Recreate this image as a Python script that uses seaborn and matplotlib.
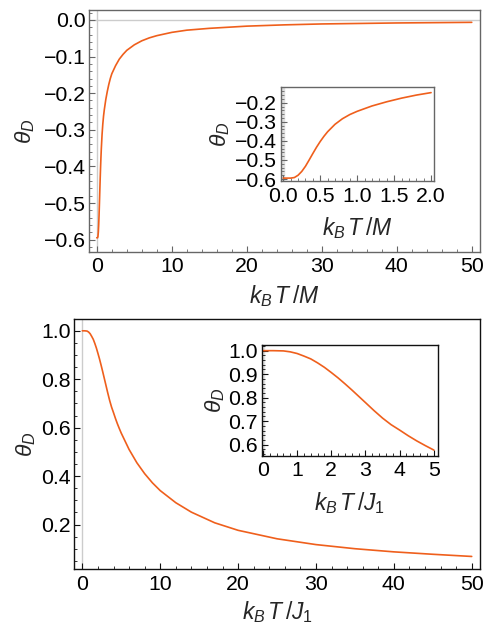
import numpy as np
import pandas as pd
import matplotlib
matplotlib.use("Agg")
import matplotlib.pyplot as plt
import seaborn as sns
from matplotlib.ticker import MultipleLocator, FixedLocator, FuncFormatter

# ---------------- data ----------------
# top panel: theta_D vs k_B T / M
x_top = [0.0, 0.10, 0.15, 0.20, 0.25, 0.30, 0.35, 0.40, 0.45, 0.50, 0.55, 0.60, 0.70,
         0.80, 0.90, 1.00, 1.20, 1.40, 1.60, 1.80, 2.00,
         2.5, 3.0, 3.5, 4.0, 5.0, 6.0, 7.0, 8.0, 10.0, 12.0, 15.0, 20.0, 25.0, 30.0,
         40.0, 50.0]
y_top = [-0.595, -0.595, -0.592, -0.580, -0.560, -0.533, -0.500, -0.466, -0.433, -0.403,
         -0.376, -0.352, -0.313, -0.284, -0.262, -0.245, -0.217, -0.195, -0.176, -0.160,
         -0.147,
         -0.125, -0.107, -0.094, -0.083, -0.068, -0.057, -0.049, -0.043, -0.034, -0.028,
         -0.023, -0.017, -0.0135, -0.011, -0.0083, -0.0066]

# bottom panel: theta_D vs k_B T / J_1
x_bot = [0.0, 0.3, 0.6, 0.8, 1.0, 1.2, 1.4, 1.6, 1.8, 2.0, 2.2, 2.4, 2.6, 2.8, 3.0,
         3.25, 3.5, 3.75, 4.0, 4.25, 4.5, 4.75, 5.0,
         6.0, 7.0, 8.0, 9.0, 10.0, 12.0, 14.0, 17.0, 20.0, 25.0, 30.0, 35.0, 40.0,
         45.0, 50.0]
y_bot = [1.0, 1.0, 0.999, 0.995, 0.988, 0.977, 0.965, 0.948, 0.929, 0.907, 0.884,
         0.859, 0.833, 0.806, 0.779, 0.745, 0.713, 0.685, 0.662, 0.638, 0.616, 0.596,
         0.577,
         0.51, 0.455, 0.41, 0.372, 0.34, 0.29, 0.251, 0.207, 0.176, 0.141, 0.117, 0.1,
         0.087, 0.077, 0.068]

inset_top_max = 2.0
inset_bot_max = 5.0

# tick values
top_main_xticks = [0, 10, 20, 30, 40, 50]
top_main_yticks = [-0.6, -0.5, -0.4, -0.3, -0.2, -0.1, 0.0]
top_in_xticks = [0.0, 0.5, 1.0, 1.5, 2.0]
top_in_yticks = [-0.6, -0.5, -0.4, -0.3, -0.2]
bot_main_xticks = [0, 10, 20, 30, 40, 50]
bot_main_yticks = [0.2, 0.4, 0.6, 0.8, 1.0]
bot_in_xticks = [0, 1, 2, 3, 4, 5]
bot_in_yticks = [0.6, 0.7, 0.8, 0.9, 1.0]

xlabel_top = r"$k_B\,T\,/M$"
xlabel_bot = r"$k_B\,T\,/J_1$"
ylabel = r"$\theta_D$"

# ---------------- style ----------------
sns.set_theme(style="white")
plt.rcParams["font.family"] = ["Liberation Sans", "DejaVu Sans"]
plt.rcParams["mathtext.fontset"] = "custom"
plt.rcParams["mathtext.rm"] = "Liberation Sans"
plt.rcParams["mathtext.it"] = "Liberation Sans:italic"
plt.rcParams["mathtext.bf"] = "Liberation Sans:bold"
plt.rcParams["axes.unicode_minus"] = True

LINE = "#ef5f1c"
TICK_FS = 15.3
LAB_FS = 16.5


def fmt1(v, p):
    s = f"{v + 0.0:.1f}"
    if s == "-0.0":
        s = "0.0"
    return s.replace("-", "\u2212")


def fmt0(v, p):
    return f"{int(round(v))}"


def style_ax(ax, frame_color, xt, yt, xminor, yminor, xfmt, yfmt):
    for sp in ax.spines.values():
        sp.set_color(frame_color)
        sp.set_linewidth(1.0)
    ax.xaxis.set_major_locator(FixedLocator(xt))
    ax.yaxis.set_major_locator(FixedLocator(yt))
    ax.xaxis.set_minor_locator(MultipleLocator(xminor))
    ax.yaxis.set_minor_locator(MultipleLocator(yminor))
    ax.xaxis.set_major_formatter(FuncFormatter(xfmt))
    ax.yaxis.set_major_formatter(FuncFormatter(yfmt))
    ax.tick_params(which="both", direction="in", top=False, right=False,
                   left=True, bottom=True, colors=frame_color,
                   labelcolor="black", labelsize=TICK_FS)
    ax.tick_params(which="major", length=4, width=0.8)
    ax.tick_params(which="minor", length=2, width=0.6)
    ax.tick_params(axis="y", pad=2.5)
    ax.tick_params(axis="x", pad=4)
    ax.set_facecolor("white")
    ax.grid(False)


fig = plt.figure(figsize=(4.87, 6.31), dpi=100)

df_top = pd.DataFrame({"x": x_top, "y": y_top})
df_bot = pd.DataFrame({"x": x_bot, "y": y_bot})

# ---------- top main ----------
ax1 = fig.add_axes([0.1834, 0.6011, 0.8022, 0.3830])
ax1.axvline(0, color="#cccccc", lw=1.0, zorder=0)
ax1.axhline(0, color="#cccccc", lw=1.0, zorder=0)
sns.lineplot(data=df_top, x="x", y="y", ax=ax1, color=LINE, linewidth=1.2,
             estimator=None, sort=False)
ax1.set_xlim(-1.0, 51.1)
ax1.set_ylim(-0.633, 0.027)
style_ax(ax1, "#666666", top_main_xticks, top_main_yticks, 2, 0.02, fmt0, fmt1)
ax1.set_xlabel(xlabel_top, fontsize=LAB_FS, labelpad=5)
ax1.set_ylabel(ylabel, fontsize=LAB_FS, labelpad=5)

# ---------- top inset ----------
ax2 = fig.add_axes([0.5764, 0.7132, 0.3148, 0.1494])
ax2.axvline(0, color="#dddddd", lw=2.5, zorder=0)
sns.lineplot(data=df_top[df_top["x"] <= inset_top_max], x="x", y="y", ax=ax2,
             color=LINE, linewidth=1.2, estimator=None, sort=False)
ax2.set_xlim(-0.035, 2.04)
ax2.set_ylim(-0.61, -0.116)
style_ax(ax2, "#666666", top_in_xticks, top_in_yticks, 0.1, 0.02, fmt1, fmt1)
ax2.set_xlabel(xlabel_top, fontsize=LAB_FS, labelpad=7)
ax2.set_ylabel(ylabel, fontsize=LAB_FS, labelpad=2)

# ---------- bottom main ----------
ax3 = fig.add_axes([0.1520, 0.0978, 0.8337, 0.3971])
ax3.axvline(0, color="#cccccc", lw=1.0, zorder=0)
sns.lineplot(data=df_bot, x="x", y="y", ax=ax3, color=LINE, linewidth=1.2,
             estimator=None, sort=False)
ax3.set_xlim(-1.07, 51.07)
ax3.set_ylim(0.015, 1.05)
style_ax(ax3, "#111111", bot_main_xticks, bot_main_yticks, 2, 0.05, fmt0, fmt1)
ax3.set_xlabel(xlabel_bot, fontsize=LAB_FS, labelpad=4)
ax3.set_ylabel(ylabel, fontsize=LAB_FS, labelpad=2)

# ---------- bottom inset ----------
ax4 = fig.add_axes([0.537, 0.2778, 0.363, 0.1754])
ax4.axvline(0, color="#dddddd", lw=2.5, zorder=0)
sns.lineplot(data=df_bot[df_bot["x"] <= inset_bot_max], x="x", y="y", ax=ax4,
             color=LINE, linewidth=1.2, estimator=None, sort=False)
ax4.set_xlim(-0.04, 5.13)
ax4.set_ylim(0.553, 1.024)
style_ax(ax4, "#111111", bot_in_xticks, bot_in_yticks, 0.2, 0.02, fmt0, fmt1)
ax4.set_xlabel(xlabel_bot, fontsize=LAB_FS, labelpad=7)
ax4.set_ylabel(ylabel, fontsize=LAB_FS, labelpad=1)

fig.savefig("out.png", dpi=100, facecolor="white")
